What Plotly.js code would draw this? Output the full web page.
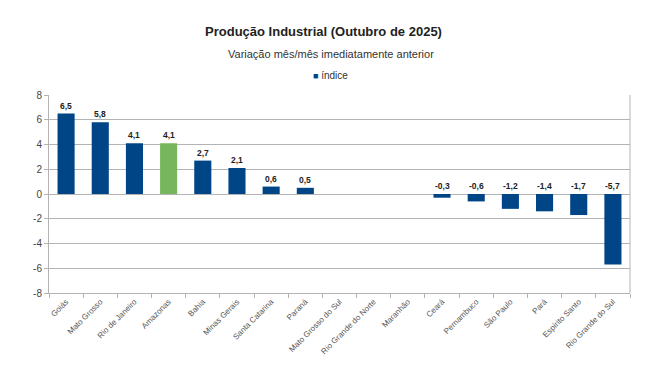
<!DOCTYPE html>
<html>
<head>
<meta charset="utf-8">
<script src="https://cdn.plot.ly/plotly-3.0.1.min.js"></script>
<style>html,body{margin:0;padding:0;background:#fff;}#chart{width:667px;height:382px;}</style>
</head>
<body>
<div id="chart"></div>
<script>
const categories = ["Goiás","Mato Grosso","Rio de Janeiro","Amazonas","Bahia","Minas Gerais","Santa Catarina","Paraná","Mato Grosso do Sul","Rio Grande do Norte","Maranhão","Ceará","Pernambuco","São Paulo","Pará","Espírito Santo","Rio Grande do Sul"];
const values = [6.5,5.8,4.1,4.1,2.7,2.1,0.6,0.5,null,null,null,-0.3,-0.6,-1.2,-1.4,-1.7,-5.7];
const highlight = "Amazonas";
const seriesName = "índice";
const yTicks = [-8,-6,-4,-2,0,2,4,6,8];

const blue = "#004586", green = "#77b65c";
const colors = categories.map(c => c === highlight ? green : blue);
const fmt = v => v.toFixed(1).replace(".", ",");

const annotations = [];
categories.forEach((c, i) => {
  const v = values[i];
  if (v === null) return;
  annotations.push({x: c, y: Math.max(v, 0), xref: "x", yref: "y", text: "<b>" + fmt(v) + "</b>",
    showarrow: false, yanchor: "bottom", yshift: 1, font: {family: "Liberation Sans, Arial", size: 8.5, color: "#222"}});
});
annotations.push({xref: "paper", yref: "paper", x: 0.485, y: 1.0 + (95 - 54) / 198, text: "Variação mês/mês imediatamente anterior",
  showarrow: false, xanchor: "center", yanchor: "middle", font: {family: "Liberation Sans, Arial", size: 11, color: "#333"}});
// legend entry
annotations.push({xref: "paper", yref: "paper", x: 0.485, y: 1.0 + (95 - 75) / 198,
  text: "<span style='color:" + blue + ";font-size:9px'>■</span> " + seriesName,
  showarrow: false, xanchor: "center", yanchor: "middle", font: {family: "Liberation Sans, Arial", size: 10, color: "#333"}});

const trace = {type: "bar", x: categories, y: values, name: seriesName, marker: {color: colors}, width: 0.5, hoverinfo: "x+y"};

const layout = {
  width: 667, height: 382,
  margin: {l: 49, r: 37, t: 95, b: 89},
  paper_bgcolor: "#fff", plot_bgcolor: "#fff",
  font: {family: "Liberation Sans, Arial", color: "#444"},
  title: {text: "<b>Produção Industrial (Outubro de 2025)</b>", x: 0.485, xanchor: "center", y: 1 - 31 / 382, yanchor: "middle",
    font: {family: "Liberation Sans, Arial", size: 13, color: "#222"}},
  showlegend: false,
  xaxis: {type: "category", tickangle: -45, tickfont: {size: 8, color: "#555"}, showgrid: false,
    showline: true, linecolor: "#b3b3b3", ticks: "outside", tickson: "boundaries", ticklen: 4, tickcolor: "#b3b3b3",
    zeroline: false, range: [-0.5, categories.length - 0.5], mirror: false},
  yaxis: {range: [-8, 8], tickvals: yTicks, ticktext: yTicks.map(String), tickfont: {size: 10, color: "#444"},
    showgrid: true, gridcolor: "#b3b3b3", gridwidth: 1, zeroline: true, zerolinecolor: "#b3b3b3", zerolinewidth: 1,
    showline: true, linecolor: "#b3b3b3", ticks: "outside", ticklen: 4, tickcolor: "#b3b3b3", mirror: false},
  shapes: [{type: "line", xref: "paper", yref: "paper", x0: 1, x1: 1, y0: 0, y1: 1, line: {color: "#b3b3b3", width: 1}}],
  annotations: annotations,
  bargap: 0.5
};
Plotly.newPlot("chart", [trace], layout, {displayModeBar: false, staticPlot: true});
</script>
</body>
</html>
